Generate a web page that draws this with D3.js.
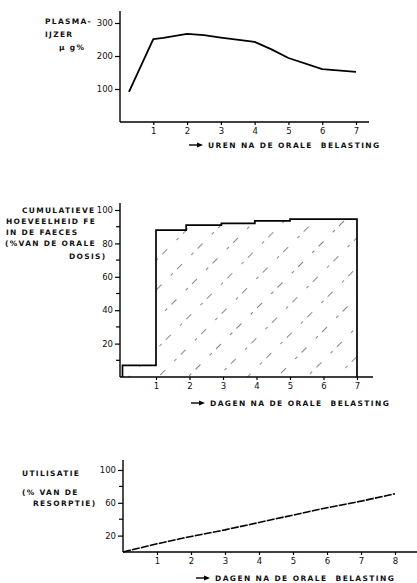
<!DOCTYPE html>
<html>
<head>
<meta charset="utf-8">
<script src="https://cdn.jsdelivr.net/npm/d3@7"></script>
<style>
  html, body { margin: 0; padding: 0; background: #fff; }
  text { font-family: "DejaVu Sans", sans-serif; font-weight: bold; fill: #111; }
</style>
</head>
<body>
<div id="fig"></div>
<script>
// chart 1: plasma iron (ug%) after oral load, hours
var plasmaHours = [0.28, 1, 1.3, 2, 2.5, 3, 4, 4.5, 5, 6, 7];
var plasmaValues = [91, 251, 255, 267, 263, 256, 243, 220, 194, 160, 152];
var plasmaYTicks = [100, 200, 300];
var plasmaXTicks = [1, 2, 3, 4, 5, 6, 7];

// chart 2: cumulative Fe in faeces (% of oral dose), days
var faecesEdges = [0, 1, 1.9, 2.95, 3.95, 5, 7];
var faecesValues = [7, 88, 91, 92, 93.5, 94.5];
var faecesYTicks = [20, 40, 60, 80, 100];
var faecesYMinor = [10, 30, 50, 70, 90];
var faecesXTicks = [1, 2, 3, 4, 5, 6, 7];

// chart 3: utilisation (% of resorption), days
var utilDays = [0, 1, 2, 3, 4, 5, 6, 7, 8];
var utilValues = [0, 10, 19, 27, 36, 45, 54, 62, 71];
var utilYTicks = [20, 60, 100];
var utilYMinor = [40, 80];
var utilXTicks = [1, 2, 3, 4, 5, 6, 7, 8];

var w = 417, h = 583;

var svg = d3.select("#fig").append("svg")
    .attr("width", w)
    .attr("height", h);

var defs = svg.append("defs");
var pat = defs.append("pattern")
    .attr("id", "hatch")
    .attr("patternUnits", "userSpaceOnUse")
    .attr("width", 21)
    .attr("height", 29)
    .attr("patternTransform", "rotate(45)");
pat.append("line")
    .attr("x1", 0).attr("y1", 0)
    .attr("x2", 0).attr("y2", 29)
    .attr("stroke", "#222")
    .attr("stroke-width", 1.1)
    .attr("stroke-dasharray", "7 6 3 13");

// axes with ticks to the left and down
function axes(g, x, y, opts) {
    var xa = d3.axisBottom(x).tickValues(opts.xTicks).tickSize(3).tickFormat(d3.format("d"));
    var gx = g.append("g")
        .attr("transform", "translate(0," + y(0) + ")")
        .call(xa);
    gx.select(".domain").remove();
    gx.append("line")
        .attr("x1", opts.axisX).attr("x2", opts.xEnd)
        .attr("stroke", "#000").attr("stroke-width", 1.7);
    gx.selectAll(".tick line").attr("stroke", "#000").attr("stroke-width", 1.2);
    gx.selectAll(".tick text")
        .attr("y", 6)
        .style("font-size", "8.5px")
        .style("font-weight", "normal");

    var ya = d3.axisLeft(y).tickValues(opts.yTicks).tickSize(5);
    var gy = g.append("g")
        .attr("transform", "translate(" + opts.axisX + ",0)")
        .call(ya);
    gy.select(".domain").remove();
    gy.append("line")
        .attr("y1", y(0)).attr("y2", opts.yTop)
        .attr("stroke", "#000").attr("stroke-width", 1.4);
    gy.selectAll(".tick line").attr("stroke", "#000").attr("stroke-width", 1.2);
    gy.selectAll(".tick text")
        .attr("x", -7)
        .style("font-size", "8.5px")
        .style("font-weight", "normal");

    if (opts.yMinor) {
        gy.selectAll(".minor")
            .data(opts.yMinor)
            .enter()
            .append("line")
            .attr("x1", -4).attr("x2", 0)
            .attr("y1", function (d) { return y(d); })
            .attr("y2", function (d) { return y(d); })
            .attr("stroke", "#000").attr("stroke-width", 1.2);
    }
}

function xTitle(g, x0, y0, label) {
    g.append("line")
        .attr("x1", x0).attr("x2", x0 + 9)
        .attr("y1", y0 - 3).attr("y2", y0 - 3)
        .attr("stroke", "#000").attr("stroke-width", 1.4);
    g.append("path")
        .attr("d", "M" + (x0 + 8) + "," + (y0 - 5.5) + "L" + (x0 + 14) + "," + (y0 - 3) + "L" + (x0 + 8) + "," + (y0 - 0.5) + "Z")
        .attr("fill", "#000");
    g.append("text")
        .attr("x", x0 + 19).attr("y", y0)
        .style("font-size", "7.5px")
        .style("letter-spacing", "1.4px")
        .style("white-space", "pre")
        .attr("xml:space", "preserve")
        .text(label);
}

function yTitle(g, lines) {
    g.selectAll(".ylab")
        .data(lines)
        .enter()
        .append("text")
        .attr("x", function (d) { return d[0]; })
        .attr("y", function (d) { return d[1]; })
        .style("font-size", "7.5px")
        .style("letter-spacing", "1.3px")
        .text(function (d) { return d[2]; });
}

// ---- chart 1
var g1 = svg.append("g");
var x1 = d3.scaleLinear().domain([0, 7]).range([119.5, 356]);
var y1 = d3.scaleLinear().domain([0, 300]).range([122, 23]);
axes(g1, x1, y1, { xTicks: plasmaXTicks, yTicks: plasmaYTicks, axisX: 120, xEnd: 369, yTop: 11 });
g1.append("path")
    .datum(plasmaHours.map(function (d, i) { return [d, plasmaValues[i]]; }))
    .attr("fill", "none")
    .attr("stroke", "#000")
    .attr("stroke-width", 1.8)
    .attr("stroke-linejoin", "round")
    .attr("d", d3.line()
        .x(function (d) { return x1(d[0]); })
        .y(function (d) { return y1(d[1]); }));
yTitle(g1, [[45, 24, "PLASMA-"], [45, 37, "IJZER"], [59, 50, "\u00b5 g%"]]);
xTitle(g1, 189, 148, "UREN NA DE ORALE  BELASTING");

// ---- chart 2
var g2 = svg.append("g");
var x2 = d3.scaleLinear().domain([0, 7]).range([122.5, 357]);
var y2 = d3.scaleLinear().domain([0, 100]).range([377, 210]);
var stepData = [];
faecesValues.forEach(function (v, i) {
    stepData.push([faecesEdges[i], v]);
    stepData.push([faecesEdges[i + 1], v]);
});
var area2 = d3.area()
    .x(function (d) { return x2(d[0]); })
    .y0(y2(0))
    .y1(function (d) { return y2(d[1]); });
g2.append("path")
    .datum(stepData)
    .attr("fill", "url(#hatch)")
    .attr("d", area2);
var outline = [[0, 0]].concat(stepData).concat([[7, 0]]);
g2.append("path")
    .datum(outline)
    .attr("fill", "none")
    .attr("stroke", "#000")
    .attr("stroke-width", 1.7)
    .attr("d", d3.line()
        .x(function (d) { return x2(d[0]); })
        .y(function (d) { return y2(d[1]); }));
axes(g2, x2, y2, { xTicks: faecesXTicks, yTicks: faecesYTicks, yMinor: faecesYMinor, axisX: 120, xEnd: 373, yTop: 203 });
yTitle(g2, [[22, 213, "CUMULATIEVE"], [6, 224, "HOEVEELHEID FE"], [6, 235, "IN DE FAECES"],
    [5, 246, "(%VAN DE ORALE"], [69, 259, "DOSIS)"]]);
xTitle(g2, 191, 406, "DAGEN NA DE ORALE  BELASTING");

// ---- chart 3
var g3 = svg.append("g");
var x3 = d3.scaleLinear().domain([0, 8]).range([123, 395]);
var y3 = d3.scaleLinear().domain([0, 100]).range([552, 470]);
g3.append("path")
    .datum(utilDays.map(function (d, i) { return [d, utilValues[i]]; }))
    .attr("fill", "none")
    .attr("stroke", "#000")
    .attr("stroke-width", 1.6)
    .attr("stroke-dasharray", "8 1.2")
    .attr("d", d3.line()
        .x(function (d) { return x3(d[0]); })
        .y(function (d) { return y3(d[1]); }));
axes(g3, x3, y3, { xTicks: utilXTicks, yTicks: utilYTicks, yMinor: utilYMinor, axisX: 123, xEnd: 417, yTop: 460 });
yTitle(g3, [[22, 476, "UTILISATIE"], [22, 495, "(% VAN DE"], [33, 506, "RESORPTIE)"]]);
xTitle(g3, 196, 581, "DAGEN NA DE ORALE  BELASTING");
</script>
</body>
</html>
